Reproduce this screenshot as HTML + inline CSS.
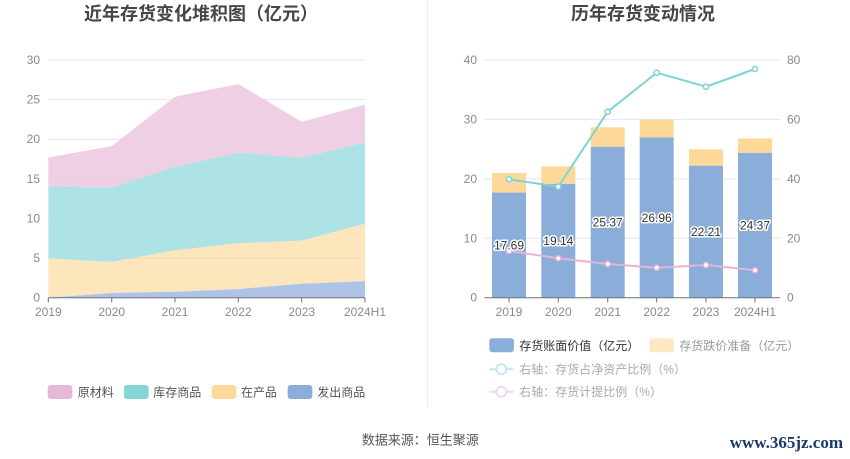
<!DOCTYPE html>
<html><head><meta charset="utf-8"><style>
html,body{margin:0;padding:0;background:#fff;}
svg{display:block;font-family:"Liberation Sans","Noto Sans CJK SC",sans-serif;}
</style></head><body>
<svg width="850" height="459" viewBox="0 0 850 459" xmlns="http://www.w3.org/2000/svg">
<rect width="850" height="459" fill="#fff"/>
<!-- divider -->
<line x1="427.5" y1="0" x2="427.5" y2="407" stroke="#eeeeee" stroke-width="1"/>

<!-- titles -->
<text x="201" y="20" font-size="18" font-weight="bold" fill="#464646" text-anchor="middle">近年存货变化堆积图（亿元）</text>
<text x="643" y="20" font-size="18" font-weight="bold" fill="#464646" text-anchor="middle">历年存货变动情况</text>

<!-- LEFT CHART -->
<g stroke="#e0e6f1" stroke-width="1">
<line x1="48.3" y1="60" x2="365" y2="60"/>
<line x1="48.3" y1="99.6" x2="365" y2="99.6"/>
<line x1="48.3" y1="139.2" x2="365" y2="139.2"/>
<line x1="48.3" y1="178.9" x2="365" y2="178.9"/>
<line x1="48.3" y1="218.5" x2="365" y2="218.5"/>
<line x1="48.3" y1="258.1" x2="365" y2="258.1"/>
</g>
<!-- areas -->
<polygon fill="#efcfe4" points="48.3,157.5 111.7,146.1 175,96.7 238.3,84.1 301.7,121.7 365,104.6 365,142.4 301.7,157.7 238.3,152.7 175,166.7 111.7,187.7 48.3,186.4"/>
<polygon fill="#ade3e4" points="48.3,186.4 111.7,187.7 175,166.7 238.3,152.7 301.7,157.7 365,142.4 365,223.7 301.7,240.7 238.3,243.3 175,250.4 111.7,262 48.3,258.4"/>
<polygon fill="#fde5bc" points="48.3,258.4 111.7,262 175,250.4 238.3,243.3 301.7,240.7 365,223.7 365,281.1 301.7,283.7 238.3,289.1 175,291.7 111.7,293 48.3,297.7"/>
<polygon fill="#aec4e6" points="48.3,297.7 111.7,293 175,291.7 238.3,289.1 301.7,283.7 365,281.1 365,297.7"/>
<g stroke="rgba(200,210,230,0.35)" stroke-width="1">
<line x1="48.3" y1="218.5" x2="365" y2="218.5"/>
<line x1="48.3" y1="258.1" x2="365" y2="258.1"/>
<line x1="48.3" y1="178.9" x2="365" y2="178.9"/>
</g>
<line x1="48.3" y1="297.7" x2="365" y2="297.7" stroke="#6e7079" stroke-width="1"/>
<g stroke="#6e7079" stroke-width="1">
<line x1="48.3" y1="297.7" x2="48.3" y2="302.5"/>
<line x1="111.7" y1="297.7" x2="111.7" y2="302.5"/>
<line x1="175" y1="297.7" x2="175" y2="302.5"/>
<line x1="238.3" y1="297.7" x2="238.3" y2="302.5"/>
<line x1="301.7" y1="297.7" x2="301.7" y2="302.5"/>
<line x1="365" y1="297.7" x2="365" y2="302.5"/>
</g>
<g font-size="12" fill="#8a8a8a" text-anchor="end">
<text x="40" y="64">30</text>
<text x="40" y="103.6">25</text>
<text x="40" y="143.2">20</text>
<text x="40" y="182.9">15</text>
<text x="40" y="222.5">10</text>
<text x="40" y="262.1">5</text>
<text x="40" y="301.7">0</text>
</g>
<g font-size="12" fill="#8a8a8a" text-anchor="middle">
<text x="48.3" y="316">2019</text>
<text x="111.7" y="316">2020</text>
<text x="175" y="316">2021</text>
<text x="238.3" y="316">2022</text>
<text x="301.7" y="316">2023</text>
<text x="365" y="316">2024H1</text>
</g>
<!-- left legend -->
<g font-size="12" fill="#555">
<rect x="47.7" y="385" width="24.6" height="14" rx="3" fill="#e8b8d8"/>
<text x="77.7" y="396.5">原材料</text>
<rect x="124" y="385" width="24.6" height="14" rx="3" fill="#86d4d8"/>
<text x="153.3" y="396.5">库存商品</text>
<rect x="211.7" y="385" width="24.6" height="14" rx="3" fill="#fdd899"/>
<text x="241" y="396.5">在产品</text>
<rect x="287.7" y="385" width="24.6" height="14" rx="3" fill="#8badd9"/>
<text x="317.3" y="396.5">发出商品</text>
</g>

<!-- RIGHT CHART -->
<g stroke="#e0e6f1" stroke-width="1">
<line x1="484.3" y1="60" x2="780" y2="60"/>
<line x1="484.3" y1="119.4" x2="780" y2="119.4"/>
<line x1="484.3" y1="178.9" x2="780" y2="178.9"/>
<line x1="484.3" y1="238.3" x2="780" y2="238.3"/>
</g>
<!-- bars -->
<g>
<rect x="492" y="173" width="34" height="19.6" fill="#fdd899"/>
<rect x="492" y="192.6" width="34" height="105.1" fill="#8badd9"/>
<rect x="541.3" y="166.4" width="34" height="17.6" fill="#fdd899"/>
<rect x="541.3" y="184" width="34" height="113.7" fill="#8badd9"/>
<rect x="590.7" y="127.3" width="34" height="19.6" fill="#fdd899"/>
<rect x="590.7" y="146.9" width="34" height="150.8" fill="#8badd9"/>
<rect x="639.7" y="119.4" width="34" height="18.1" fill="#fdd899"/>
<rect x="639.7" y="137.5" width="34" height="160.2" fill="#8badd9"/>
<rect x="689" y="149.3" width="34" height="16.4" fill="#fdd899"/>
<rect x="689" y="165.7" width="34" height="132" fill="#8badd9"/>
<rect x="738" y="138.4" width="34" height="14.5" fill="#fdd899"/>
<rect x="738" y="152.9" width="34" height="144.8" fill="#8badd9"/>
</g>
<line x1="484.3" y1="297.7" x2="780" y2="297.7" stroke="#6e7079" stroke-width="1"/>
<g stroke="#6e7079" stroke-width="1">
<line x1="509" y1="297.7" x2="509" y2="302.5"/>
<line x1="558.3" y1="297.7" x2="558.3" y2="302.5"/>
<line x1="607.7" y1="297.7" x2="607.7" y2="302.5"/>
<line x1="656.7" y1="297.7" x2="656.7" y2="302.5"/>
<line x1="706" y1="297.7" x2="706" y2="302.5"/>
<line x1="755" y1="297.7" x2="755" y2="302.5"/>
</g>
<!-- lines -->
<polyline fill="none" stroke="#7dd3d6" stroke-width="2" points="509,179.3 558.3,186.7 607.7,111.7 656.7,72.7 706,86.7 755,69"/>
<g fill="#fff" stroke="#7dd3d6" stroke-width="1.5">
<circle cx="509" cy="179.3" r="2.6"/><circle cx="558.3" cy="186.7" r="2.6"/><circle cx="607.7" cy="111.7" r="2.6"/><circle cx="656.7" cy="72.7" r="2.6"/><circle cx="706" cy="86.7" r="2.6"/><circle cx="755" cy="69" r="2.6"/>
</g>
<polyline fill="none" stroke="#e5b3d8" stroke-width="2" points="509,251 558.3,258.3 607.7,264 656.7,267.7 706,265 755,270.3"/>
<g fill="#fff" stroke="#e5b3d8" stroke-width="1.5">
<circle cx="509" cy="251" r="2.6"/><circle cx="558.3" cy="258.3" r="2.6"/><circle cx="607.7" cy="264" r="2.6"/><circle cx="656.7" cy="267.7" r="2.6"/><circle cx="706" cy="265" r="2.6"/><circle cx="755" cy="270.3" r="2.6"/>
</g>
<!-- bar labels -->
<g font-size="12" fill="#333" text-anchor="middle" stroke="#fff" stroke-width="3" paint-order="stroke" stroke-linejoin="round">
<text x="509" y="249.5">17.69</text>
<text x="558.3" y="245.2">19.14</text>
<text x="607.7" y="226.6">25.37</text>
<text x="656.7" y="221.9">26.96</text>
<text x="706" y="236">22.21</text>
<text x="755" y="229.6">24.37</text>
</g>
<g font-size="12" fill="#8a8a8a" text-anchor="end">
<text x="477" y="64">40</text>
<text x="477" y="123.4">30</text>
<text x="477" y="182.9">20</text>
<text x="477" y="242.3">10</text>
<text x="477" y="301.7">0</text>
</g>
<g font-size="12" fill="#8a8a8a" text-anchor="start">
<text x="787" y="64">80</text>
<text x="787" y="123.4">60</text>
<text x="787" y="182.9">40</text>
<text x="787" y="242.3">20</text>
<text x="787" y="301.7">0</text>
</g>
<g font-size="12" fill="#8a8a8a" text-anchor="middle">
<text x="509" y="316">2019</text>
<text x="558.3" y="316">2020</text>
<text x="607.7" y="316">2021</text>
<text x="656.7" y="316">2022</text>
<text x="706" y="316">2023</text>
<text x="755" y="316">2024H1</text>
</g>
<!-- right legend -->
<g font-size="12">
<rect x="489.3" y="338.3" width="24.6" height="14" rx="3" fill="#8badd9"/>
<text x="519.3" y="349.8" fill="#333">存货账面价值（亿元）</text>
<rect x="649.3" y="338.3" width="24.6" height="14" rx="3" fill="#fde8c6"/>
<text x="679.3" y="349.8" fill="#999">存货跌价准备（亿元）</text>
<line x1="489.3" y1="369.3" x2="513.5" y2="369.3" stroke="#bfe9eb" stroke-width="2"/>
<circle cx="501.4" cy="369.3" r="5" fill="#fff" stroke="#bfe9eb" stroke-width="2"/>
<text x="519.3" y="373.5" fill="#aaa">右轴：存货占净资产比例（%）</text>
<line x1="489.3" y1="391.7" x2="513.5" y2="391.7" stroke="#f3d6ea" stroke-width="2"/>
<circle cx="501.4" cy="391.7" r="5" fill="#fff" stroke="#f3d6ea" stroke-width="2"/>
<text x="519.3" y="396" fill="#aaa">右轴：存货计提比例（%）</text>
</g>

<!-- source -->
<text x="361.7" y="444.5" font-size="13" fill="#555">数据来源：恒生聚源</text>
<text x="843" y="448" font-size="17" font-weight="bold" fill="#1b3a6b" text-anchor="end" font-family="'Liberation Serif',serif">www.365jz.com</text>
</svg>
</body></html>
